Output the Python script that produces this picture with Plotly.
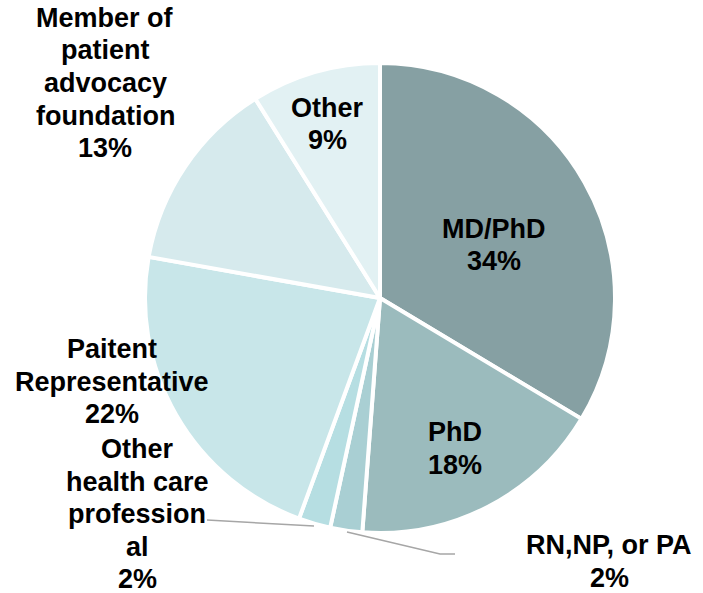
import plotly.graph_objects as go

W, H = 703, 593

categories = ["MD/PhD", "PhD", "RN,NP, or PA", "Other health care professional",
              "Paitent Representative", "Member of patient advocacy foundation", "Other"]
values = [33.6, 17.6, 2.2, 2.2, 22.2, 13.3, 8.9]
display_labels = ["MD/PhD", "PhD", "RN,NP, or PA", "Other<br>health care<br>profession<br>al",
                  "Paitent<br>Representative", "Member of<br>patient<br>advocacy<br>foundation", "Other"]
colors = ["#86A0A3", "#9BBBBD", "#A9CFD3", "#B6DEE2", "#C8E6E9", "#D6EAED", "#E2F1F3"]

# label layout in pixels: (x centre, y centre of first line)
label_pos = [(494, 229), (455, 432), (609, 545), (137, 449), (112, 349), (105, 18), (327, 108)]
LINE_GAP = 32.5
FONT_SIZE = 27

# leader lines (pixel polylines), for the small outside slices
leaders = {
    2: [(347, 532), (440, 554), (455, 554)],
    3: [(314, 526), (207, 520)],
}

def px(x):
    return x / W

def py(y):
    return 1 - y / H

cx, cy, r = 380, 298, 235
total = sum(values)

fig = go.Figure(go.Pie(
    labels=categories,
    values=values,
    sort=False,
    direction="clockwise",
    rotation=0,
    marker=dict(colors=colors, line=dict(color="white", width=4)),
    textinfo="none",
    hoverinfo="label+percent",
    showlegend=False,
    domain=dict(x=[px(cx - r), px(cx + r)], y=[py(cy + r), py(cy - r)]),
))

for i, (lab, v) in enumerate(zip(display_labels, values)):
    x, y0 = label_pos[i]
    lines = lab.split("<br>") + [f"{round(v / total * 100)}%"]
    for k, line in enumerate(lines):
        fig.add_annotation(
            x=px(x), y=py(y0 + k * LINE_GAP), xref="paper", yref="paper",
            text=line, showarrow=False,
            font=dict(family="Liberation Sans, Arial, sans-serif", size=FONT_SIZE,
                      color="#000000", weight="bold"),
            align="center", xanchor="center", yanchor="middle",
        )

for i, pts in leaders.items():
    path = "M " + " L ".join(f"{px(x)},{py(y)}" for x, y in pts)
    fig.add_shape(type="path", path=path, xref="paper", yref="paper",
                  line=dict(color="#A6A6A6", width=1.5))

fig.update_layout(
    width=W, height=H,
    margin=dict(l=0, r=0, t=0, b=0),
    paper_bgcolor="white", plot_bgcolor="white",
)

fig.write_html("out.html", config={"displayModeBar": False},
               post_script="document.body.style.margin='0';")
